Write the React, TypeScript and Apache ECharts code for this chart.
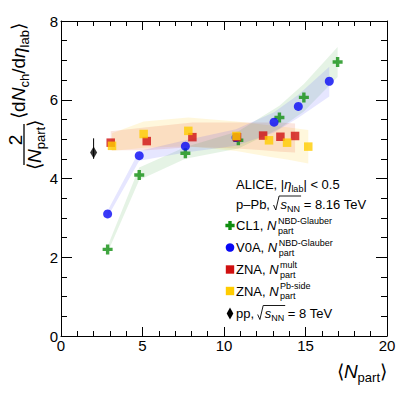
import React, { useEffect, useRef } from 'react';
import * as echarts from 'echarts';

// ---- data ----
const CL1_X = [2.86, 4.8, 7.63, 10.88, 13.4, 14.9, 16.97];
const CL1_Y = [2.2, 4.09, 4.64, 4.97, 5.55, 6.06, 6.96];
const CL1_LO = [2.12, 3.96, 4.5, 4.76, 5.27, 5.7, 6.58];
const CL1_HI = [2.28, 4.28, 4.8, 5.2, 5.85, 6.4, 7.34];

const V0A_X = [2.86, 4.8, 7.63, 10.74, 13.07, 14.56, 16.46];
const V0A_Y = [3.1, 4.58, 4.82, 5.04, 5.43, 5.83, 6.47];
const V0A_LO = [3.02, 4.45, 4.66, 4.83, 5.17, 5.54, 6.08];
const V0A_HI = [3.18, 4.7, 4.97, 5.25, 5.68, 6.13, 6.84];

const ZNA_MULT_X = [3.05, 5.26, 8.06, 10.8, 12.4, 13.46, 14.36];
const ZNA_MULT_Y = [4.91, 4.95, 5.05, 5.05, 5.09, 5.06, 5.08];
const ZNA_MULT_LO = [4.72, 4.72, 4.8, 4.76, 4.72, 4.68, 4.66];
const ZNA_MULT_HI = [5.2, 5.3, 5.42, 5.42, 5.42, 5.42, 5.4];

const ZNA_PB_X = [3.13, 5.07, 7.81, 10.76, 12.76, 13.87, 15.17];
const ZNA_PB_Y = [4.83, 5.13, 5.21, 5.08, 4.97, 4.91, 4.81];
const ZNA_PB_LO = [4.7, 4.78, 4.82, 4.7, 4.55, 4.48, 4.38];
const ZNA_PB_HI = [5.15, 5.45, 5.55, 5.45, 5.35, 5.3, 5.23];

const PP_X = [2.0];
const PP_Y = [4.66];
const PP_LO = [4.5];
const PP_HI = [5.02];

const X_TICKS = [0, 5, 10, 15, 20];
const Y_TICKS = [0, 2, 4, 6, 8];

// ---- styles ----
const FONT = '"Liberation Sans", Arial, Helvetica, sans-serif';
const GREEN = '#108e10';
const BLUE = '#0808f5';
const RED = '#d01010';
const YELLOW = '#ffcc00';
const CROSS = 'path://M3.3,0H6.7V3.3H10V6.7H6.7V10H3.3V6.7H0V3.3H3.3Z';

const ctx = document.createElement('canvas').getContext('2d') as CanvasRenderingContext2D;
function tw(t: string, size: number, italic = false) {
  ctx.font = `${italic ? 'italic ' : ''}${size}px "Liberation Sans"`;
  return ctx.measureText(t).width;
}

const band = (xs: number[], lo: number[], hi: number[], color: string, z: number) => ({
  type: 'custom',
  silent: true,
  z,
  clip: true,
  data: [[xs[0], lo[0]]],
  renderItem: (_p: any, api: any) => {
    const up = xs.map((x, i) => api.coord([x, hi[i]]));
    const dn = xs.map((x, i) => api.coord([x, lo[i]])).reverse();
    return { type: 'polygon', shape: { points: up.concat(dn) }, style: { fill: color, stroke: 'none' } };
  },
});

const pts = (xs: number[], ys: number[]) => xs.map((x, i) => [x, ys[i]]);

const axisCommon = (min: number, max: number, interval: number, minorSplit: number, major: number, minor: number) => ({
  type: 'value',
  min,
  max,
  interval,
  axisLine: { show: true, onZero: false, lineStyle: { color: '#000', width: 1 } },
  axisTick: { show: true, inside: true, length: major, lineStyle: { color: '#000', width: 1 } },
  minorTick: { show: true, splitNumber: minorSplit, length: minor, lineStyle: { color: '#000', width: 1 } },
  splitLine: { show: false },
  minorSplitLine: { show: false },
});

const RICH13 = {
  i: { fontStyle: 'italic', fontSize: 13, fontFamily: FONT, lineHeight: 18, fill: '#000' },
  sub: { fontSize: 9, fontFamily: FONT, lineHeight: 8, verticalAlign: 'bottom', fill: '#000' },
  gap: { width: 7, fontSize: 13, fontFamily: FONT, lineHeight: 18 },
};

function txt(x: number, y: number, text: string, extra: any = {}) {
  return {
    type: 'text',
    x,
    y,
    silent: true,
    style: {
      text,
      fontSize: 13,
      fontFamily: FONT,
      lineHeight: 18,
      fill: '#000',
      align: 'left',
      verticalAlign: 'middle',
      rich: RICH13,
      ...extra,
    },
  };
}

const LX = 236;
const MX = 230;

function nLine(label: string, y: number, sup: string) {
  const w = tw(label, 13) + tw('N', 13, true) + 1.5;
  return [
    txt(LX, y, `${label}{i|N}`),
    txt(LX + w, y - 5, sup, { fontSize: 9, lineHeight: 10 }),
    txt(LX + w, y + 5, 'part', { fontSize: 9, lineHeight: 10 }),
  ];
}

function sqrtLine(prefix: string, rest: string, y: number) {
  const rx = LX + tw(prefix, 13);
  const sw = tw('s', 13, true) + tw('NN', 9) + 1;
  return [
    txt(LX, y, `${prefix}{gap|\u00a0}{i|s}{sub|NN}${rest}`),
    {
      type: 'polyline',
      silent: true,
      shape: { points: [[rx, y + 1], [rx + 2.2, y + 6], [rx + 5.5, y - 8], [rx + 7 + sw, y - 8]] },
      style: { stroke: '#000', lineWidth: 0.9, fill: 'none' },
    },
  ];
}

function crossPoly(cx: number, cy: number, h: number, a: number) {
  return [
    [cx - a, cy - h], [cx + a, cy - h], [cx + a, cy - a], [cx + h, cy - a], [cx + h, cy + a], [cx + a, cy + a],
    [cx + a, cy + h], [cx - a, cy + h], [cx - a, cy + a], [cx - h, cy + a], [cx - h, cy - a], [cx - a, cy - a],
  ];
}

const RICH19 = {
  i: { fontStyle: 'italic', fontSize: 19, fontFamily: FONT, lineHeight: 26, fill: '#000' },
  sub: { fontSize: 13, fontFamily: FONT, lineHeight: 10, verticalAlign: 'bottom', fill: '#000' },
};

function bigText(x: number, y: number, text: string, align: string) {
  return {
    type: 'text',
    x,
    y,
    silent: true,
    style: {
      text,
      fontSize: 19,
      fontFamily: FONT,
      lineHeight: 26,
      fill: '#000',
      align,
      verticalAlign: 'middle',
      rich: RICH19,
    },
  };
}

export default function App() {
  const ref = useRef<HTMLDivElement>(null);
  useEffect(() => {
    if (!ref.current) return;
    const chart = echarts.init(ref.current, undefined, { renderer: 'svg' });
    const yL = 184, yP = 204, y1 = 225.5, y2 = 247.5, y3 = 269.5, y4 = 291, y5 = 313.5;
    const graphic: any[] = [
      txt(LX, yL, 'ALICE,\u00a0|{i|η}{sub|lab}|\u00a0<\u00a00.5'),
      ...sqrtLine('p–Pb,\u00a0', '\u00a0=\u00a08.16\u00a0TeV', yP),
      { type: 'polygon', silent: true, shape: { points: crossPoly(MX, y1, 4.6, 1.7) }, style: { fill: GREEN } },
      ...nLine('CL1,\u00a0', y1, 'NBD-Glauber'),
      { type: 'circle', silent: true, shape: { cx: MX, cy: y2, r: 4.3 }, style: { fill: BLUE } },
      ...nLine('V0A,\u00a0', y2, 'NBD-Glauber'),
      { type: 'rect', silent: true, shape: { x: MX - 4.2, y: y3 - 4.2, width: 8.4, height: 8.4 }, style: { fill: RED } },
      ...nLine('ZNA,\u00a0', y3, 'mult'),
      { type: 'rect', silent: true, shape: { x: MX - 4.2, y: y4 - 4.2, width: 8.4, height: 8.4 }, style: { fill: YELLOW } },
      ...nLine('ZNA,\u00a0', y4, 'Pb-side'),
      { type: 'polygon', silent: true, shape: { points: [[MX, y5 - 6], [MX + 3.3, y5], [MX, y5 + 6], [MX - 3.3, y5]] }, style: { fill: '#000' } },
      ...sqrtLine('pp,\u00a0', '\u00a0=\u00a08\u00a0TeV', y5),
      // x title
      bigText(387, 371, '⟨{i|N}{sub|part}⟩', 'right'),
      // y title (rotated)
      {
        type: 'group',
        x: 0,
        y: 0,
        rotation: Math.PI / 2,
        children: [
          bigText(-140, 15, '2', 'center'),
          { type: 'line', silent: true, shape: { x1: -165, y1: 24, x2: -124, y2: 24 }, style: { stroke: '#000', lineWidth: 1.3 } },
          bigText(-145, 34, '⟨{i|N}{sub|part}⟩', 'center'),
          bigText(-71, 18, '⟨d{i|N}{sub|ch}/d{i|η}{sub|lab}⟩', 'center'),
        ],
      },
    ];

    const option: any = {
      animation: false,
      backgroundColor: '#fff',
      grid: { left: 61, right: 20, top: 21, bottom: 60, containLabel: false },
      xAxis: [
        {
          ...axisCommon(X_TICKS[0], X_TICKS[X_TICKS.length - 1], X_TICKS[1] - X_TICKS[0], 5, 9, 5),
          position: 'bottom',
          axisLabel: { show: true, color: '#000', fontSize: 15, fontFamily: FONT, margin: 2 },
        },
        {
          ...axisCommon(X_TICKS[0], X_TICKS[X_TICKS.length - 1], X_TICKS[1] - X_TICKS[0], 5, 9, 5),
          position: 'top',
          axisLabel: { show: false },
        },
      ],
      yAxis: [
        {
          ...axisCommon(Y_TICKS[0], Y_TICKS[Y_TICKS.length - 1], Y_TICKS[1] - Y_TICKS[0], 4, 11, 6),
          position: 'left',
          axisLabel: { show: true, color: '#000', fontSize: 15, fontFamily: FONT, margin: 3 },
        },
        {
          ...axisCommon(Y_TICKS[0], Y_TICKS[Y_TICKS.length - 1], Y_TICKS[1] - Y_TICKS[0], 4, 11, 6),
          position: 'right',
          axisLabel: { show: false },
        },
      ],
      series: [
        band(ZNA_PB_X, ZNA_PB_LO, ZNA_PB_HI, 'rgba(255,205,40,0.16)', 1),
        band(ZNA_MULT_X, ZNA_MULT_LO, ZNA_MULT_HI, 'rgba(230,80,40,0.15)', 1),
        band(CL1_X, CL1_LO, CL1_HI, 'rgba(40,160,40,0.12)', 1),
        band(V0A_X, V0A_LO, V0A_HI, 'rgba(60,60,255,0.13)', 1),
        {
          type: 'custom',
          silent: true,
          z: 2,
          data: PP_X.map((x, i) => [x, PP_LO[i], PP_HI[i]]),
          renderItem: (_p: any, api: any) => {
            const a = api.coord([api.value(0), api.value(1)]);
            const b = api.coord([api.value(0), api.value(2)]);
            return { type: 'line', shape: { x1: a[0], y1: a[1], x2: b[0], y2: b[1] }, style: { stroke: '#000', lineWidth: 1 } };
          },
        },
        { type: 'scatter', z: 3, silent: true, data: pts(PP_X, PP_Y), symbol: 'diamond', symbolSize: [7, 12], itemStyle: { color: '#000' } },
        { type: 'scatter', z: 3, silent: true, data: pts(CL1_X, CL1_Y), symbol: CROSS, symbolSize: 10, itemStyle: { color: GREEN } },
        { type: 'scatter', z: 3, silent: true, data: pts(V0A_X, V0A_Y), symbol: 'circle', symbolSize: 9, itemStyle: { color: BLUE } },
        { type: 'scatter', z: 3, silent: true, data: pts(ZNA_MULT_X, ZNA_MULT_Y), symbol: 'rect', symbolSize: 8.5, itemStyle: { color: RED } },
        { type: 'scatter', z: 3, silent: true, data: pts(ZNA_PB_X, ZNA_PB_Y), symbol: 'rect', symbolSize: 8.5, itemStyle: { color: YELLOW } },
      ],
      graphic,
    };
    chart.setOption(option);
    return () => chart.dispose();
  }, []);
  return <div ref={ref} style={{ width: 407, height: 396, position: 'absolute', left: 0, top: 0 }} />;
}
